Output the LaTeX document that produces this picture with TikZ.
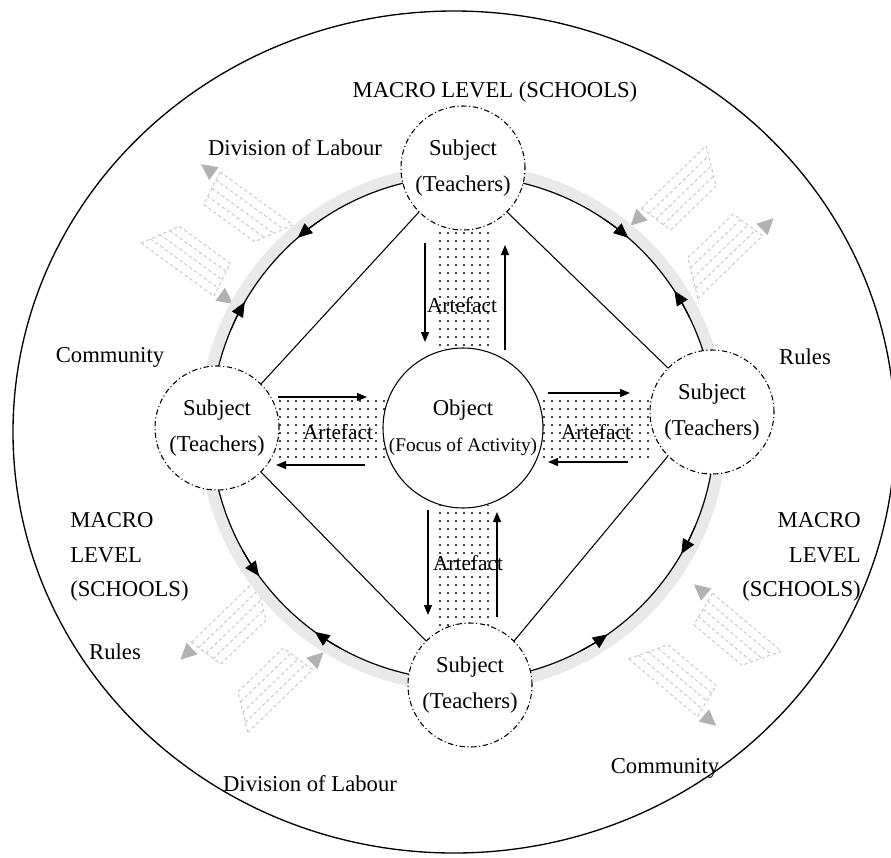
\documentclass[tikz,border=0pt]{standalone}
\usepackage{fontspec}
\setmainfont{Liberation Serif}
\usetikzlibrary{arrows.meta,patterns.meta}

\tikzdeclarepattern{
  name=artdots,
  type=uncolored,
  bounding box={(-3pt,-3pt) and (3pt,3pt)},
  tile size={(6pt,6pt)},
  code={\fill (0pt,0pt) circle (0.8pt);}
}

% one grey exchange sign, drawn round its own centre
\newcommand{\swaparrows}{%
  \foreach \v/\a/\b in {-52/-34/56,-43/-33/51,-34/-31/46,-25/-30/40,-16/-28/35}{%
    \draw[ribbon] (\a,\v) -- (\b,\v);
    \draw[ribbon] ({-(\b)},{-(\v)}) -- ({-(\a)},{-(\v)});
  }%
  \draw[ribbon] (-34,-52) -- (-28,-16);
  \draw[ribbon] (56,-52) -- (35,-16);
  \draw[ribbon] (34,52) -- (28,16);
  \draw[ribbon] (-56,52) -- (-35,16);
  \fill[swaptip] (-38,-55) -- (-54,-47) -- (-38,-39) -- cycle;
  \fill[swaptip] (38,55) -- (54,47) -- (38,39) -- cycle;
}

\begin{document}
\begin{tikzpicture}[x=0.75pt,y=-0.75pt,
  lbl/.style={font=\fontsize{17}{26}\selectfont, inner sep=0pt},
  subj/.style={circle, draw, line width=0.8pt, dash pattern=on 4pt off 2pt on 0.8pt off 2pt,
    fill=white, minimum size=93pt, inner sep=0pt, align=center, font=\fontsize{17}{27}\selectfont},
  objc/.style={circle, draw, line width=0.8pt, fill=white, minimum size=120pt, inner sep=0pt,
    align=center, font=\fontsize{17}{27}\selectfont},
  artlbl/.style={font=\fontsize{16}{20}\selectfont, inner sep=0pt},
  flow/.style={line width=0.9pt, -{Triangle[length=7.5pt,width=6pt]}},
  ringtip/.style={line width=0.9pt, -{Triangle[length=11pt,width=9.5pt]}},
  ribbon/.style={gray!45, line width=0.7pt, dash pattern=on 2.5pt off 2pt},
  swaptip/.style={fill=gray!60},
  artbox/.style={pattern=artdots, pattern color=black}]

\useasboundingbox (0,0) rectangle (891,857);
\clip (0,0) rectangle (891,857);

% outer boundary
\draw[line width=1pt] (454,432) ellipse [x radius=441, y radius=421];

% grey exchange signs
\begin{scope}[shift={(217,234)}, rotate=-36]\swaparrows\end{scope}
\begin{scope}[shift={(702,222)}, rotate=44]\swaparrows\end{scope}
\begin{scope}[shift={(252,656)}, rotate=44]\swaparrows\end{scope}
\begin{scope}[shift={(705,655)}, rotate=-40]\swaparrows\end{scope}

% ring
\coordinate (ringc) at (463,428);
\draw[gray!17, line width=9pt] (ringc) circle[radius=258];
\draw[line width=0.9pt] (ringc) circle[radius=252];
\foreach \a/\b in {-124/-131,-157/-150,-56/-49,-26/-33,23/30,62/55,-209/-216,-241/-234}
  \draw[ringtip] ([shift={(\a:252)}]ringc) arc[start angle=\a, end angle=\b, radius=252];

% artefact fields
\fill[artbox] (437,228) rectangle (490,350);
\fill[artbox] (437,505) rectangle (490,628);
\fill[artbox] (277,400) rectangle (385,460);
\fill[artbox] (543,400) rectangle (655,460);

% subjects and object
\node[subj] (subT) at (463,168) {Subject\\(Teachers)};
\node[subj] (subL) at (217,428) {Subject\\(Teachers)};
\node[subj] (subR) at (712,412) {Subject\\(Teachers)};
\node[subj] (subB) at (470,685) {Subject\\(Teachers)};
\node[objc] (obj) at (463,428) {Object\\\fontsize{14.5}{27}\selectfont(Focus of Activity)};

\draw[line width=0.8pt] (subT.225) -- (subL.45);
\draw[line width=0.8pt] (subT.315) -- (subR.135);
\draw[line width=0.8pt] (subL.315) -- (subB.135);
\draw[line width=0.8pt] (subR.225) -- (subB.45);

% artefact exchanges
\foreach \n/\x/\y in {tdA/425/243, tdB/425/342, tuA/505/350, tuB/505/245,
                      bdA/428/510, bdB/428/615, buA/497/617, buB/497/512,
                      lrA/278/397, lrB/367/397, llA/365/465, llB/276/465,
                      rrA/548/393, rrB/630/393, rlA/628/462, rlB/548/462}
  \coordinate (\n) at (\x,\y);
\draw[flow] (tdA) -- (tdB);
\draw[flow] (tuA) -- (tuB);
\draw[flow] (bdA) -- (bdB);
\draw[flow] (buA) -- (buB);
\draw[flow] (lrA) -- (lrB);
\draw[flow] (llA) -- (llB);
\draw[flow] (rrA) -- (rrB);
\draw[flow] (rlA) -- (rlB);

\node[artlbl] (artT) at (462,305) {Artefact};
\node[artlbl] (artB) at (468,563) {Artefact};
\node[artlbl] (artL) at (338,432) {Artefact};
\node[artlbl] (artR) at (596,432) {Artefact};

% labels
\node[lbl] (macT) at (495,92) {MACRO LEVEL (SCHOOLS)};
\node[lbl] (divT) at (295,148) {Division of Labour};
\node[lbl] (comL) at (110,357) {Community};
\node[lbl] (rulR) at (805,357) {Rules};
\node[lbl, align=left, anchor=west] (macL) at (70,557) {MACRO\\LEVEL\\(SCHOOLS)};
\node[lbl, align=right, anchor=east] (macR) at (861,557) {MACRO\\LEVEL\\(SCHOOLS)};
\node[lbl] (rulL) at (115,652) {Rules};
\node[lbl] (divB) at (310,784) {Division of Labour};
\node[lbl] (comR) at (665,768) {Community};

\end{tikzpicture}
\end{document}
